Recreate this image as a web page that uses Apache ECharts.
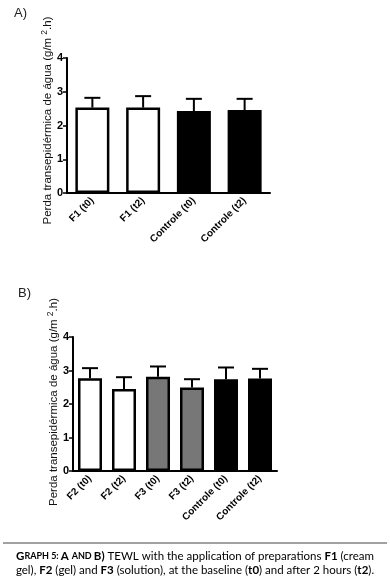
<!DOCTYPE html>
<html><head><meta charset="utf-8">
<script src="https://cdn.jsdelivr.net/npm/echarts@6/dist/echarts.min.js"></script>
<style>html,body{margin:0;padding:0;background:#fff}#c{width:390px;height:586px}</style>
</head><body><div id="c"></div>
<script>
// ---- data ----
const catsA = ['F1 (t0)', 'F1 (t2)', 'Controle (t0)', 'Controle (t2)'];
const meanA = [2.53, 2.53, 2.43, 2.46];
const sdA   = [0.29, 0.34, 0.36, 0.33];
const catsB = ['F2 (t0)', 'F2 (t2)', 'F3 (t0)', 'F3 (t2)', 'Controle (t0)', 'Controle (t2)'];
const meanB = [2.77, 2.45, 2.81, 2.49, 2.74, 2.76];
const sdB   = [0.30, 0.35, 0.31, 0.25, 0.35, 0.29];
const yTicks = [0, 1, 2, 3, 4];
const yTitle = 'Perda transepidérmica de água (g/m ';

function fillFor(name) {
  if (name.indexOf('Controle') === 0) return '#000000';
  if (name.indexOf('F3') === 0) return '#777777';
  return '#ffffff';
}
const chart = echarts.init(document.getElementById('c'), null, {renderer: 'canvas'});
const axisFont = 'Arial, "Liberation Sans", sans-serif';

function xAx(idx, cats) {
  return {
    type: 'category', gridIndex: idx, data: cats,
    axisLine: {lineStyle: {color: '#000', width: 2}},
    axisTick: {alignWithLabel: true, length: 4, lineStyle: {color: '#000', width: 1.5}},
    axisLabel: {rotate: 45, margin: 6, color: '#000', fontWeight: 'bold', fontSize: 10, fontFamily: axisFont, interval: 0}
  };
}
function yAx(idx, shift) {
  return {
    type: 'value', gridIndex: idx, min: yTicks[0], max: yTicks[yTicks.length - 1], interval: 1,
    splitLine: {show: false},
    axisLine: {show: true, lineStyle: {color: '#000', width: 2}},
    axisTick: {show: true, length: 4, lineStyle: {color: '#000', width: 1.5}},
    axisLabel: {color: '#000', fontWeight: 'bold', fontSize: 11, fontFamily: axisFont, margin: 4},
    name: '{a|' + yTitle + '}{s|2}{a|.h)}',
    nameLocation: 'middle', nameRotate: 90, nameGap: 11, nameMoveOverlap: false,
    nameTextStyle: {
      padding: [0, 0, 0, shift],
      rich: {
        a: {fontSize: 11.5, fontFamily: axisFont, color: '#111'},
        s: {fontSize: 8.5, fontFamily: axisFont, color: '#111', padding: [0, 0, 7, 0]}
      }
    }
  };
}
function barSeries(idx, cats, means, bw) {
  return {
    type: 'bar', xAxisIndex: idx, yAxisIndex: idx, barWidth: bw,
    data: means.map((v, i) => ({value: v, itemStyle: {color: fillFor(cats[i]), borderColor: '#000', borderWidth: 2.5}})),
    silent: true, animation: false, z: 2
  };
}
function errSeries(idx, cats, means, sds) {
  return {
    type: 'custom', xAxisIndex: idx, yAxisIndex: idx, z: 3, animation: false, silent: true,
    data: means.map((v, i) => [i, v, v + sds[i]]),
    renderItem: function (params, api) {
      const p0 = api.coord([api.value(0), api.value(1)]);
      const p1 = api.coord([api.value(0), api.value(2)]);
      const hw = 8;
      return {
        type: 'group', children: [
          {type: 'line', shape: {x1: p0[0], y1: p0[1], x2: p1[0], y2: p1[1]}, style: {stroke: '#000', lineWidth: 2}},
          {type: 'line', shape: {x1: p1[0] - hw, y1: p1[1], x2: p1[0] + hw, y2: p1[1]}, style: {stroke: '#000', lineWidth: 2}}
        ]
      };
    }
  };
}
const capFont = 'Lato, "Open Sans", sans-serif';
const capRich = {
  n: {fontSize: 11.5, fontFamily: capFont, color: '#333'},
  b: {fontSize: 11.5, fontFamily: capFont, color: '#333', fontWeight: 'bold'},
  sc: {fontSize: 9, fontFamily: capFont, color: '#333', fontWeight: 'bold'}
};
chart.setOption({
  animation: false,
  grid: [
    {left: 67, top: 58, width: 203, height: 135},
    {left: 73, top: 337, width: 204, height: 134}
  ],
  xAxis: [xAx(0, catsA), xAx(1, catsB)],
  yAxis: [yAx(0, 10), yAx(1, 4)],
  series: [
    barSeries(0, catsA, meanA, 34),
    errSeries(0, catsA, meanA, sdA),
    barSeries(1, catsB, meanB, 24),
    errSeries(1, catsB, meanB, sdB)
  ],
  graphic: [
    {type: 'text', left: 14, top: 7, style: {text: 'A)', fontSize: 13, fontFamily: axisFont, fill: '#222'}},
    {type: 'text', left: 18, top: 287, style: {text: 'B)', fontSize: 13, fontFamily: axisFont, fill: '#222'}},
    {type: 'line', shape: {x1: 3, y1: 543, x2: 387, y2: 543}, style: {stroke: '#444', lineWidth: 1}},
    {type: 'text', left: 'center', top: 550, style: {
      text: '{b|G}{sc|RAPH 5: }{b|A }{sc|AND }{b|B)}{n| TEWL with the application of preparations }{b|F1}{n| (cream}',
      rich: capRich, align: 'center'}},
    {type: 'text', left: 'center', top: 564, style: {
      text: '{n|gel), }{b|F2}{n| (gel) and }{b|F3}{n| (solution), at the baseline (}{b|t0}{n|) and after 2 hours (}{b|t2}{n|).}',
      rich: capRich, align: 'center'}}
  ]
});
</script>
</body></html>
